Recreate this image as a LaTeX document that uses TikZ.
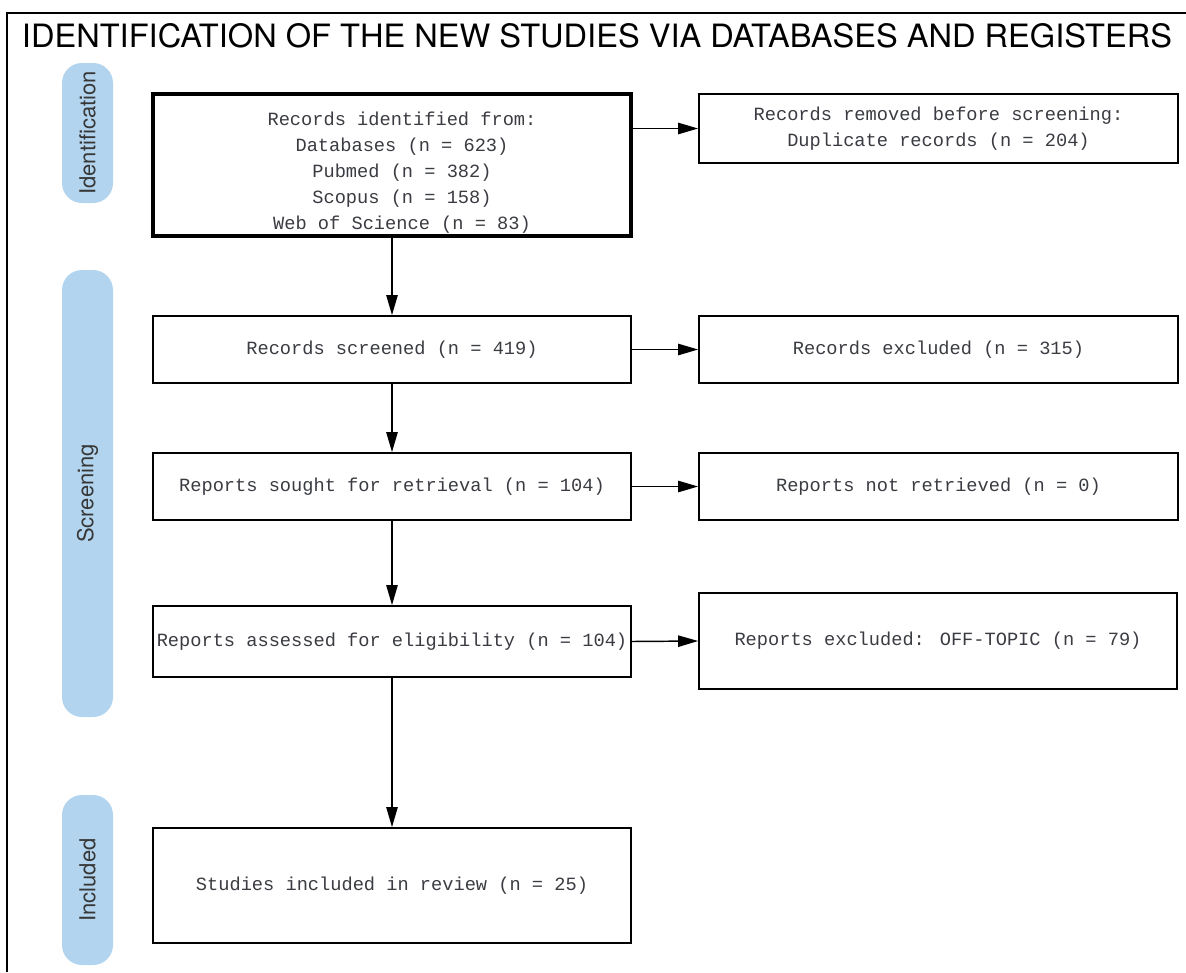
\documentclass[tikz,border=0pt]{standalone}
\usepackage{fontspec}
\usetikzlibrary{arrows.meta}
\newfontfamily\heros{TeX Gyre Heros}
\newfontfamily\monofnt{Liberation Mono}
\definecolor{pillblue}{RGB}{178,212,238}
\definecolor{txtgray}{RGB}{58,60,66}
\definecolor{pilltxt}{RGB}{55,55,55}
\tikzset{
  box/.style={draw=black, line width=1.3pt, inner sep=0pt, align=center,
    font=\monofnt\fontsize{14pt}{19.5pt}\selectfont, text=txtgray},
  thickbox/.style={box, line width=3pt},
  boxtext/.style={inner sep=0pt, align=center,
    font=\monofnt\fontsize{14pt}{19.5pt}\selectfont, text=txtgray},
  pill/.style={fill=pillblue, rounded corners=15pt, inner sep=0pt, rotate=90,
    font=\heros\fontsize{16.5pt}{18pt}\selectfont, text=pilltxt},
  arr/.style={line width=1.1pt, -{Triangle[length=15pt,width=8.5pt]}},
  frameline/.style={line width=1.1pt}
}
\begin{document}
\begin{tikzpicture}[x=0.75pt,y=-0.75pt]
\useasboundingbox (0,0) rectangle (1186,972);
\fill[white] (0,0) rectangle (1186,972);
\draw[frameline] (7,972) -- (7,13) -- (1186,13);
\node[anchor=base, inner sep=0pt] (title) at (597,47)
  {\resizebox{862.5pt}{18pt}{\heros IDENTIFICATION OF THE NEW STUDIES VIA DATABASES AND REGISTERS}};
% phase pills
\node[pill, minimum width=105pt, minimum height=38.25pt] (pid) at (87.5,133) {Identification};
\node[pill, minimum width=335.25pt, minimum height=38.25pt] (pscr) at (87.5,493.5) {Screening};
\node[pill, minimum width=127.5pt, minimum height=38.25pt] (pinc) at (87.5,880) {Included};
% boxes
\node[thickbox, minimum width=358.5pt, minimum height=106.5pt] (b1) at (392,165) {};
\node[boxtext] (b1t) at (402,173)
  {Records identified from:\\Databases (n = 623)\\Pubmed (n = 382)\\Scopus (n = 158)\\Web of Science (n = 83)};
\node[box, minimum width=359.25pt, minimum height=51.75pt] (b2) at (938.5,128.5)
  {Records removed before screening:\\Duplicate records (n = 204)};
\node[box, minimum width=358.5pt, minimum height=50.25pt] (b3) at (392,349.5)
  {Records screened (n = 419)};
\node[box, minimum width=359.25pt, minimum height=50.25pt] (b4) at (938.5,349.5)
  {Records excluded (n = 315)};
\node[box, minimum width=358.5pt, minimum height=50.25pt] (b5) at (392,486.5)
  {Reports sought for retrieval (n = 104)};
\node[box, minimum width=359.25pt, minimum height=50.25pt] (b6) at (938.5,486.5)
  {Reports not retrieved (n = 0)};
\node[box, minimum width=358.5pt, minimum height=53.25pt] (b7) at (392,641.5)
  {Reports assessed for eligibility (n = 104)};
\node[box, minimum width=358.5pt, minimum height=72pt] (b8) at (938,641)
  {Reports excluded: OFF-TOPIC (n = 79)};
\node[box, minimum width=358.5pt, minimum height=86.25pt] (b9) at (392,885.5)
  {Studies included in review (n = 25)};
% connectors
\draw[arr] (b1.south) -- (b3.north);
\draw[arr] (b3.south) -- (b5.north);
\draw[arr] (b5.south) -- (b7.north);
\draw[arr] (b7.south) -- (b9.north);
\draw[arr] (b1.east |- b2.west) -- (b2.west);
\draw[arr] (b3.east) -- (b4.west);
\draw[arr] (b5.east) -- (b6.west);
\draw[arr] (b7.east) -- (b8.west);
\end{tikzpicture}
\end{document}
